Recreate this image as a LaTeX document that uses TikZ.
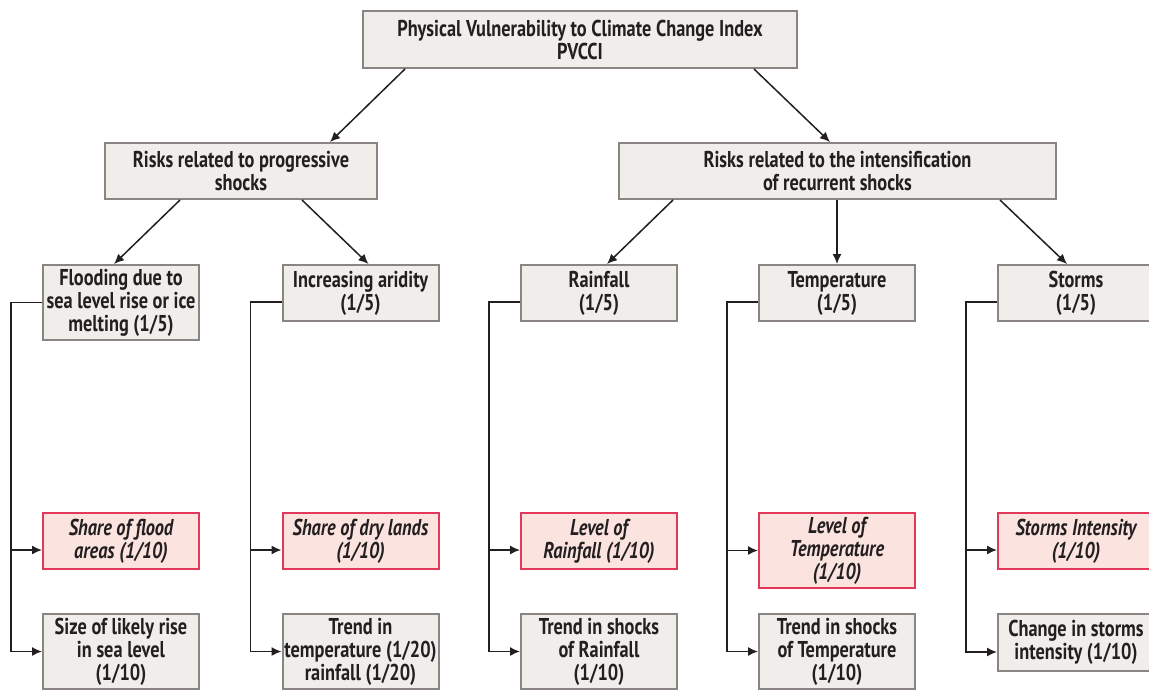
\documentclass[tikz,border=0pt]{standalone}
\usepackage{fontspec}
\setmainfont{PT Sans}[FakeStretch=0.8]
\usetikzlibrary{arrows.meta}
\definecolor{boxfill}{HTML}{EFEEEB}
\definecolor{boxdraw}{HTML}{8A8582}
\definecolor{redfill}{HTML}{FBE4DF}
\definecolor{reddraw}{HTML}{E2385A}
\definecolor{ink}{HTML}{231F20}
\begin{document}
\begin{tikzpicture}[x=1pt,y=-1pt,
  gbox/.style={draw=boxdraw,fill=boxfill,line width=2pt,inner sep=0pt,align=center,
    font=\fontsize{22.9}{23}\selectfont\bfseries,text=ink},
  rbox/.style={gbox,draw=reddraw,fill=redfill,font=\fontsize{22.9}{23}\selectfont\bfseries\itshape},
  col/.style={minimum width=156pt,minimum height=56pt},
  tall/.style={minimum width=156pt,minimum height=75pt},
  conn/.style={draw=ink,line width=1.5pt,-{Latex[length=10pt,width=9pt]}}]
\fill[white] (0,0) rectangle (1149,689);
\useasboundingbox (0,0) rectangle (1149,689);

% top levels
\node[gbox,minimum width=434pt,minimum height=57pt] (top) at (580,39.5)
  {Physical Vulnerability to Climate Change Index\\PVCCI};
\node[gbox,minimum width=272pt,minimum height=56pt] (prog) at (241,171)
  {Risks related to progressive\\shocks};
\node[gbox,minimum width=437pt,minimum height=56pt] (intens) at (837.5,171)
  {Risks related to the intensification\\of recurrent shocks};

% level 3
\node[gbox,tall] (flood) at (121,302.5) {Flooding due to\\sea level rise or ice\\melting (1/5)};
\node[gbox,col] (arid) at (360.5,293) {Increasing aridity\\(1/5)};
\node[gbox,col] (rain) at (599,293) {Rainfall\\(1/5)};
\node[gbox,col] (temp) at (837,293) {Temperature\\(1/5)};
\node[gbox,col] (storm) at (1076,293) {Storms\\(1/5)};

% red row
\node[rbox,col] (floodR) at (121,541) {Share of flood\\areas (1/10)};
\node[rbox,col] (aridR) at (360.5,541) {Share of dry lands\\(1/10)};
\node[rbox,col] (rainR) at (599,541) {Level of\\Rainfall (1/10)};
\node[rbox,tall] (tempR) at (837,550.5) {Level of\\Temperature\\(1/10)};
\node[rbox,col] (stormR) at (1076,541) {Storms Intensity\\(1/10)};

% bottom row
\node[gbox,tall] (floodB) at (121,651.5) {Size of likely rise\\in sea level\\(1/10)};
\node[gbox,tall] (aridB) at (360.5,651.5) {Trend in\\temperature (1/20)\\rainfall (1/20)};
\node[gbox,tall] (rainB) at (599,651.5) {Trend in shocks\\of Rainfall\\(1/10)};
\node[gbox,tall] (tempB) at (837,651.5) {Trend in shocks\\of Temperature\\(1/10)};
\node[gbox,col,minimum height=57pt] (stormB) at (1076,642.5) {Change in storms\\intensity (1/10)};

% tree arrows
\draw[conn] ([xshift=-175pt]top.south) -- ([xshift=89pt]prog.north);
\draw[conn] ([xshift=174pt]top.south) -- ([xshift=-7.5pt]intens.north);
\draw[conn] ([xshift=-61pt]prog.south) -- ([xshift=-7pt]flood.north);
\draw[conn] ([xshift=61pt]prog.south) -- ([xshift=8pt]arid.north);
\draw[conn] ([xshift=-164.5pt]intens.south) -- ([xshift=8pt]rain.north);
\draw[conn] (temp.north |- intens.south) -- (temp.north);
\draw[conn] ([xshift=162.5pt]intens.south) -- ([xshift=-9pt]storm.north);

% brackets
\draw[conn] (flood.west) -| ([xshift=-31pt]floodB.west) -- (floodB.west);
\draw[conn] ([xshift=-31pt,yshift=-9pt]floodR.west) -- ([yshift=-9pt]floodR.west);

\draw[conn] ([yshift=-9pt]arid.west) -| ([xshift=-31pt]aridB.west) -- (aridB.west);
\draw[conn] ([xshift=-31pt,yshift=-9pt]aridR.west) -- ([yshift=-9pt]aridR.west);

\draw[conn] ([yshift=-9pt]rain.west) -| ([xshift=-31pt]rainB.west) -- (rainB.west);
\draw[conn] ([xshift=-31pt,yshift=-9pt]rainR.west) -- ([yshift=-9pt]rainR.west);

\draw[conn] ([yshift=-9pt]temp.west) -| ([xshift=-31pt]tempB.west) -- (tempB.west);
\draw[conn] ([xshift=-31pt]tempR.west) -- (tempR.west);

\draw[conn] ([yshift=-9pt]storm.west) -| ([xshift=-31pt,yshift=-9.5pt]stormB.west) -- ([yshift=-9.5pt]stormB.west);
\draw[conn] ([xshift=-31pt,yshift=-9pt]stormR.west) -- ([yshift=-9pt]stormR.west);
\end{tikzpicture}
\end{document}
